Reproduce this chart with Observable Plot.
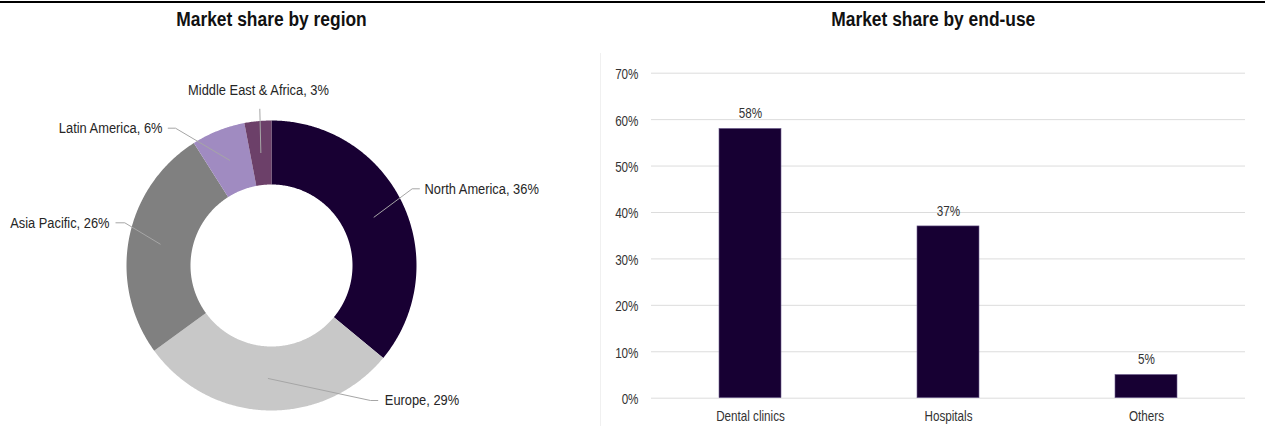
<!DOCTYPE html>
<html><head><meta charset="utf-8">
<script src="https://cdn.jsdelivr.net/npm/d3@7"></script>
<script src="https://cdn.jsdelivr.net/npm/@observablehq/plot@0.6"></script>
<style>
html,body{margin:0;padding:0;background:#fff;}
#root{position:relative;width:1265px;height:426px;overflow:hidden;font-family:"Liberation Sans",Arial,sans-serif;}
.topline{position:absolute;left:0;top:1px;width:1265px;height:2px;background:#000;}
.title{position:absolute;top:7px;font-weight:bold;font-size:20px;line-height:24px;text-align:center;color:#111;}
.title span{display:inline-block;transform:scaleX(0.87);transform-origin:center center;white-space:nowrap;}
#left{position:absolute;left:0;top:36px;}
#right{position:absolute;left:601px;top:36px;}
.sep{position:absolute;left:600px;top:53px;width:1px;height:373px;background:#f0f0f0;}
</style></head><body>
<div id="root">
 <div class="topline"></div>
 <div class="title" style="left:0;width:542px"><span>Market share by region</span></div>
 <div class="title" style="left:601px;width:664px"><span>Market share by end-use</span></div>
 <div class="sep"></div>
 <div id="left"></div><div id="right"></div>
</div>
<script>
// ---- data ----
const regions = ["North America", "Europe", "Asia Pacific", "Latin America", "Middle East & Africa"];
const regionShare = [36, 29, 26, 6, 3];
const regionColors = ["#180033", "#c8c8c8", "#808080", "#a08bc1", "#6c4069"];

const endUses = ["Dental clinics", "Hospitals", "Others"];
const endUseShare = [58, 37, 5];
const yTicks = [0, 10, 20, 30, 40, 50, 60, 70];

// ---- layout (label elbows, relative to donut centre, px, y up) ----
const labelLayout = [
  {elbow: [140.7, 76.7], end: [148.3, 76.7], text: [153, 76.7], anchor: "start"},
  {elbow: [99, -135], end: [106.7, -135], text: [113.3, -135], anchor: "start"},
  {elbow: [-146.7, 42.7], end: [-156, 42.7], text: [-162, 42.7], anchor: "end"},
  {elbow: [-96, 137.3], end: [-103.7, 137.3], text: [-109, 137.3], anchor: "end"},
  {elbow: [-11.7, 156.7], end: [-11.7, 156.7], text: [-13, 175], anchor: "middle"}
];
const FONT = '"Liberation Sans",Arial,sans-serif';

// condense SVG text horizontally (narrow face look) keeping anchor points fixed
function condense(svg, k) {
  svg.querySelectorAll("text").forEach(t => {
    const xa = t.getAttribute("x");
    let x = 0;
    if (xa && !/em$/.test(xa)) { x = +xa || 0; t.removeAttribute("x"); }
    const tr = t.getAttribute("transform") || "";
    t.setAttribute("transform", `${tr} translate(${x},0) scale(${k},1)`);
  });
}

// ---- donut geometry ----
const R = 145, r0 = 81, rLead = 113;
const total = d3.sum(regionShare);
let acc = 0;
const slices = regions.map((name, i) => {
  const a0 = acc / total * 2 * Math.PI;
  acc += regionShare[i];
  const a1 = acc / total * 2 * Math.PI;
  return {name, value: regionShare[i], a0, a1};
});
const ring = [];
for (const s of slices) {
  const n = Math.max(8, Math.ceil((s.a1 - s.a0) / (Math.PI / 360)));
  for (let k = 0; k <= n; k++) { const a = s.a0 + (s.a1 - s.a0) * k / n; ring.push({name: s.name, x: R * Math.sin(a), y: R * Math.cos(a)}); }
  for (let k = n; k >= 0; k--) { const a = s.a0 + (s.a1 - s.a0) * k / n; ring.push({name: s.name, x: r0 * Math.sin(a), y: r0 * Math.cos(a)}); }
}
const leaders = [];
const labels = [];
slices.forEach((s, i) => {
  const L = labelLayout[i];
  const m = (s.a0 + s.a1) / 2;
  leaders.push({name: s.name, x: rLead * Math.sin(m), y: rLead * Math.cos(m)});
  leaders.push({name: s.name, x: L.elbow[0], y: L.elbow[1]});
  leaders.push({name: s.name, x: L.end[0], y: L.end[1]});
  labels.push({x: L.text[0], y: L.text[1], anchor: L.anchor, text: `${s.name}, ${s.value}%`});
});

const left = Plot.plot({
  width: 600, height: 390, margin: 0,
  x: {domain: [-271, 329], axis: null},
  y: {domain: [-161, 229], axis: null},
  color: {domain: regions, range: regionColors},
  style: {fontFamily: FONT, fontSize: "15.5px", color: "#262626", background: "transparent", overflow: "visible"},
  marks: [
    Plot.line(ring, {x: "x", y: "y", z: "name", fill: "name", stroke: "none", curve: "linear"}),
    Plot.line(leaders, {x: "x", y: "y", z: "name", stroke: "#a6a6a6", strokeWidth: 1, strokeLinecap: "butt"}),
    ...["start", "end", "middle"].map(a =>
      Plot.text(labels.filter(d => d.anchor === a), {x: "x", y: "y", text: "text", textAnchor: a, lineAnchor: "middle", fill: "#262626", fontSize: 15.5}))
  ]
});
document.getElementById("left").appendChild(left);
condense(left, 0.83);

// ---- bar chart ----
const bars = endUses.map((c, i) => ({cat: c, v: endUseShare[i]}));
const right = Plot.plot({
  width: 664, height: 390,
  marginLeft: 50, marginRight: 20, marginTop: 36.7, marginBottom: 28.3,
  x: {domain: endUses, padding: 0, axis: null},
  y: {domain: [0, 70], axis: null},
  style: {fontFamily: FONT, fontSize: "14px", color: "#333", background: "transparent", overflow: "visible"},
  marks: [
    Plot.ruleY(yTicks, {stroke: "#dcdcdc", strokeWidth: 1}),
    Plot.axisY(yTicks, {tickSize: 0, tickPadding: 13, tickFormat: d => d + "%", dy: 1.5, fill: "#333", fontSize: 14, label: null}),
    Plot.barY(bars, {x: "cat", y: "v", fill: "#170033", stroke: "#6f5f8f", strokeWidth: 0.6, insetLeft: 68, insetRight: 68}),
    Plot.text(bars, {x: "cat", y: "v", text: d => d.v + "%", dy: -15, lineAnchor: "middle", fill: "#333", fontSize: 14}),
    Plot.axisX(endUses, {tickSize: 0, tickPadding: 13, fill: "#333", fontSize: 14, label: null})
  ]
});
document.getElementById("right").appendChild(right);
condense(right, 0.835);
</script>
</body></html>
